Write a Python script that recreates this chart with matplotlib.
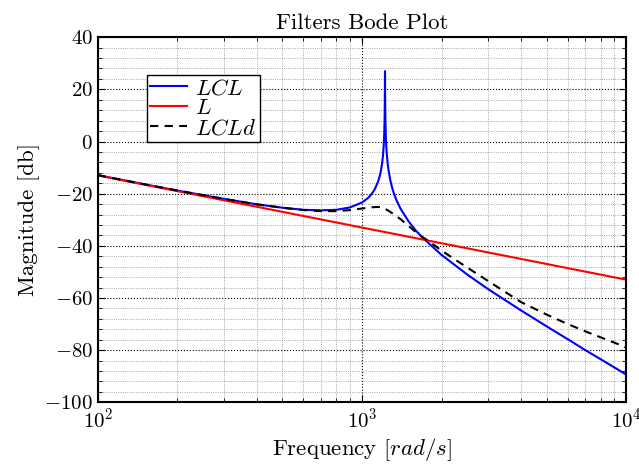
import numpy as np
import matplotlib
matplotlib.use("Agg")
import matplotlib.pyplot as plt
from matplotlib.ticker import MultipleLocator, LogLocator, NullFormatter

plt.rcParams['font.family'] = 'serif'
plt.rcParams['font.serif'] = ['cmr10', 'DejaVu Serif']
plt.rcParams['mathtext.fontset'] = 'cm'
plt.rcParams['axes.formatter.use_mathtext'] = True
plt.rcParams['axes.unicode_minus'] = True

# L filter
w_L = [100, 1000, 10000]
mag_L = [-13.0, -33.0, -53.0]

# LCL filter
w_LCL = [100, 150, 200, 300, 400, 500, 600, 700, 800, 900, 1000, 1050, 1080,
         1100, 1120, 1150, 1160, 1170, 1180, 1190, 1200, 1205, 1210, 1214,
         1218, 1220, 1222, 1224, 1226, 1230, 1235, 1240, 1250, 1260, 1280,
         1300, 1320, 1350, 1400, 1500, 1600, 1700, 2000, 2500, 3000, 4000,
         5000, 6000, 7000, 8000, 9000, 10000]
mag_LCL = [-12.9, -16.4, -18.8, -22.0, -24.1, -25.4, -26.2, -26.4, -26.2,
           -25.3, -23.4, -21.8, -20.5, -19.4, -18.1, -15.4, -14.2, -12.8,
           -11.0, -8.8, -5.7, -3.4, -0.4, 3.0, 9.0, 15.0, 27.0, 14.9, 8.9,
           2.8, -1.5, -4.3, -8.2, -11.0, -14.9, -17.7, -19.9, -22.5, -25.8,
           -30.6, -34.2, -37.0, -43.5, -51.0, -56.6, -64.8, -70.9, -75.8,
           -80.0, -83.5, -86.6, -89.4]

# damped LCL filter
w_LCLd = [100, 150, 200, 300, 400, 500, 600, 700, 800, 900, 1000, 1100, 1150,
          1200, 1280, 1400, 1500, 1650, 1770, 2000, 2213, 2500, 3000, 4000,
          5000, 6000, 7115, 8000, 9000, 10000]
mag_LCLd = [-12.9, -16.4, -18.8, -22.0, -24.1, -25.4, -26.3, -26.7, -26.7,
            -26.3, -25.7, -25.2, -25.1, -25.3, -27.0, -29.8, -32.4, -35.9,
            -37.9, -41.8, -44.8, -48.3, -53.5, -61.6, -66.4, -70.0, -73.1,
            -75.1, -77.1, -79.0]

fig = plt.figure(figsize=(6.39, 4.71), dpi=100)
ax = fig.add_axes([0.153, 0.146, 0.827, 0.775])

ax.semilogx(w_LCL, mag_LCL, color=(0, 0, 1), lw=1.5, label=r'$LCL$')
ax.semilogx(w_L, mag_L, color=(1, 0, 0), lw=1.5, label=r'$L$')
ax.semilogx(w_LCLd, mag_LCLd, color='k', lw=1.5, ls=(0, (4, 3)), label=r'$LCLd$')

ax.set_xlim(100, 10000)
ax.set_ylim(-100, 40)
ax.yaxis.set_major_locator(MultipleLocator(20))
ax.yaxis.set_minor_locator(MultipleLocator(4))
ax.xaxis.set_major_locator(LogLocator(base=10))
ax.xaxis.set_minor_locator(LogLocator(base=10, subs=np.arange(2, 10)))
ax.xaxis.set_minor_formatter(NullFormatter())

ax.grid(True, which='major', ls=':', color='k', lw=0.8)
ax.grid(True, which='minor', ls=':', color='0.55', lw=0.6)

ax.tick_params(which='both', direction='in', top=True, right=True)
ax.tick_params(which='major', length=5, width=0.8, labelsize=15)
ax.tick_params(which='minor', length=3, width=0.6)
for s in ax.spines.values():
    s.set_linewidth(1.5)

ax.set_title('Filters Bode Plot', fontsize=16.5, pad=6)
ax.set_xlabel(r'Frequency $[rad/s]$', fontsize=16.5, labelpad=3)
ax.set_ylabel('Magnitude [db]', fontsize=16.5, labelpad=3)

leg = ax.legend(loc='upper left', bbox_to_anchor=(0.093, 0.897), fontsize=16.5,
                handlelength=1.6, fancybox=False, framealpha=1,
                edgecolor='k', borderpad=0.15, labelspacing=0.0,
                handletextpad=0.35, borderaxespad=0)
leg.get_frame().set_linewidth(1.0)

fig.savefig('out.png', dpi=100)
